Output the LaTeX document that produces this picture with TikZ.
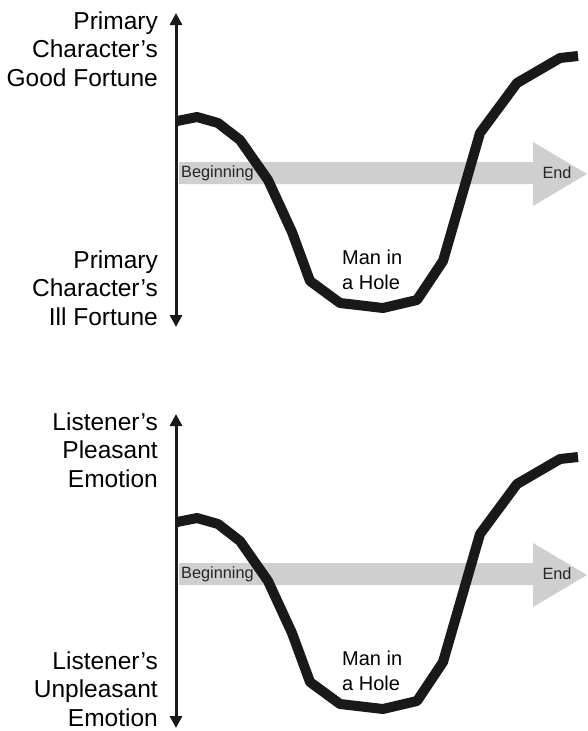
\documentclass[tikz,border=0pt]{standalone}
\usepackage{fontspec}
\setmainfont{Liberation Sans}
\usetikzlibrary{arrows.meta}

\begin{document}
\begin{tikzpicture}[x=1pt,y=-1pt]
\tikzset{
  axis/.style={line width=3pt, black!90, {Triangle[width=12pt,length=12pt]}-{Triangle[width=12pt,length=12pt]}},
  timeline/.style={fill=black!19},
  story/.style={line width=10pt, black!90, line join=round},
  axislabel/.style={align=right, anchor=east, inner sep=0pt, font=\fontsize{24.5}{28.5}\selectfont},
  smalllabel/.style={inner sep=0pt, text=black!85, font=\fontsize{16.3}{18}\selectfont},
  holelabel/.style={align=left, anchor=west, inner sep=0pt, font=\fontsize{20}{25}\selectfont}
}
\useasboundingbox (0,0) rectangle (587,731);
\foreach \dy/\hi/\lo in {0/{Primary\\Character’s\\Good Fortune}/{Primary\\Character’s\\Ill Fortune},
                         401/{Listener’s\\Pleasant\\Emotion}/{Listener’s\\Unpleasant\\Emotion}} {
\begin{scope}[yshift=-\dy pt]
% time arrow
\fill [timeline] (179,162) -- (533,162) -- (533,142) -- (587,174) -- (533,206) -- (533,184) -- (179,184) -- cycle;
\node [smalllabel, anchor=west] (start) at (181,173) {Beginning};
\node [smalllabel] (finish) at (557,173) {End};
% fortune axis
\coordinate (top) at (176,13);
\coordinate (bottom) at (176,327);
\draw [axis] (bottom) -- (top);
\node [axislabel] (hi) at (158,49) {\hi};
\node [axislabel] (lo) at (158,288) {\lo};
% story shape
\draw [story] (177,121) -- (197,117) -- (218,123) -- (240,140) -- (268,180) -- (292,232)
  -- (310,281) -- (340,303) -- (383,308) -- (417,300) -- (443,261) -- (480,133)
  -- (517,83) -- (560,58) -- (578,56);
\node [holelabel] (hole) at (342,270) {Man in\\a Hole};
\end{scope}
}
\end{tikzpicture}
\end{document}
